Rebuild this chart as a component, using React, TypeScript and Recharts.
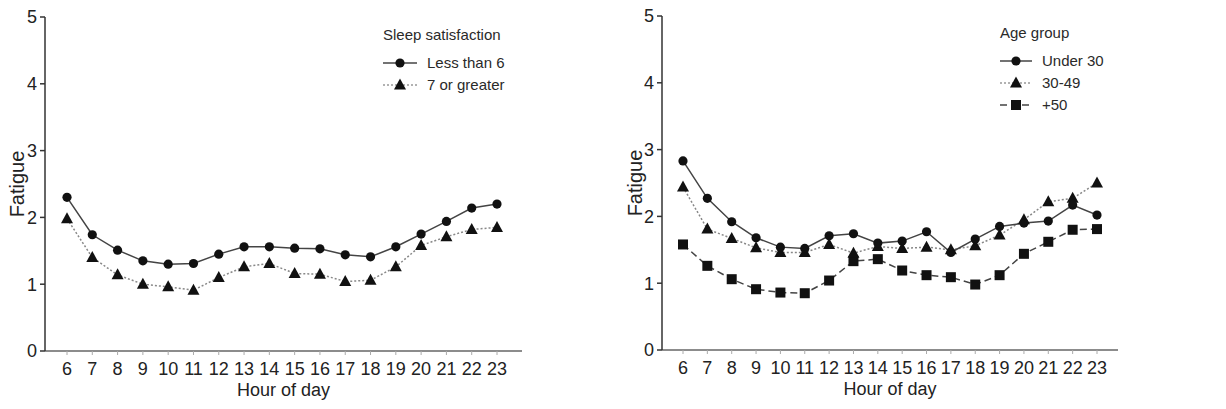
import React from "react";
import { LineChart, Line, XAxis, YAxis, Legend } from "recharts";

const hours = [6, 7, 8, 9, 10, 11, 12, 13, 14, 15, 16, 17, 18, 19, 20, 21, 22, 23];
const fatigueTicks = [0, 1, 2, 3, 4, 5];

// sleep satisfaction panel
const lessThan6 = [2.3, 1.74, 1.51, 1.35, 1.3, 1.31, 1.45, 1.56, 1.56, 1.54, 1.53, 1.44, 1.41, 1.56, 1.75, 1.94, 2.14, 2.2];
const sevenOrGreater = [1.98, 1.4, 1.14, 1.0, 0.96, 0.91, 1.1, 1.26, 1.31, 1.16, 1.15, 1.04, 1.06, 1.26, 1.58, 1.71, 1.82, 1.85];

// age group panel
const under30 = [2.83, 2.27, 1.92, 1.68, 1.54, 1.52, 1.71, 1.74, 1.6, 1.63, 1.77, 1.46, 1.66, 1.85, 1.9, 1.93, 2.17, 2.02];
const age30to49 = [2.44, 1.81, 1.67, 1.53, 1.46, 1.46, 1.58, 1.45, 1.55, 1.52, 1.54, 1.5, 1.56, 1.72, 1.95, 2.22, 2.27, 2.5];
const over50 = [1.58, 1.26, 1.06, 0.91, 0.86, 0.85, 1.04, 1.33, 1.36, 1.19, 1.12, 1.09, 0.98, 1.12, 1.44, 1.62, 1.8, 1.81];

const sleepData = hours.map((h, i) => ({ hour: h, less6: lessThan6[i], seven: sevenOrGreater[i] }));
const ageData = hours.map((h, i) => ({ hour: h, u30: under30[i], a3049: age30to49[i], o50: over50[i] }));

const FONT = '"Liberation Sans", Arial, sans-serif';
const INK = "#222";
const AXIS = "#333";

type Shape = "circle" | "triangle" | "square";

function Marker({ cx, cy, shape }: { cx: number; cy: number; shape: Shape }) {
  if (shape === "circle") return <circle cx={cx} cy={cy} r={4.6} fill="#111" />;
  if (shape === "triangle")
    return <polygon points={`${cx},${cy - 6.5} ${cx - 6},${cy + 4.5} ${cx + 6},${cy + 4.5}`} fill="#111" />;
  return <rect x={cx - 5} y={cy - 5} width={10} height={10} fill="#111" />;
}

const dotFor = (shape: Shape) => (p: any) =>
  <Marker key={`${shape}-${p.index}`} cx={p.cx} cy={p.cy} shape={shape} />;

interface LegendItem {
  name: string;
  shape: Shape;
  stroke: string;
  dash?: string;
}

const sleepLegend: LegendItem[] = [
  { name: "Less than 6", shape: "circle", stroke: "#444" },
  { name: "7 or greater", shape: "triangle", stroke: "#999", dash: "2 2" },
];
const ageLegend: LegendItem[] = [
  { name: "Under 30", shape: "circle", stroke: "#444" },
  { name: "30-49", shape: "triangle", stroke: "#999", dash: "2 2" },
  { name: "+50", shape: "square", stroke: "#444", dash: "7 4" },
];

function LegendBox({ title, items, sample }: { title: string; items: LegendItem[]; sample: number }) {
  return (
    <div style={{ fontFamily: FONT, fontSize: 15, color: "#2a2a2a", lineHeight: "22px", textAlign: "left" }}>
      <div style={{ marginBottom: 6 }}>{title}</div>
      {items.map((it) => (
        <div key={it.name} style={{ display: "flex", alignItems: "center", height: 22 }}>
          <svg width={sample} height={16} style={{ display: "block" }}>
            <line x1={0} y1={8} x2={sample} y2={8} stroke={it.stroke} strokeWidth={1.5} strokeDasharray={it.dash} />
            <Marker cx={sample / 2} cy={8} shape={it.shape} />
          </svg>
          <span style={{ marginLeft: 10 }}>{it.name}</span>
        </div>
      ))}
    </div>
  );
}

const yTitle = (offset: number) => (props: any) => {
  const vb = props.viewBox;
  const cx = vb.x + offset;
  const cy = vb.y + vb.height / 2;
  return (
    <text x={cx} y={cy} transform={`rotate(-90, ${cx}, ${cy})`} textAnchor="middle" dominantBaseline="central"
      fontFamily={FONT} fontSize={20} fill={INK}>
      Fatigue
    </text>
  );
};

const xTitle = (props: any) => {
  const vb = props.viewBox;
  return (
    <text x={vb.x + vb.width / 2} y={vb.y + 45} textAnchor="middle" fontFamily={FONT} fontSize={18} fill={INK}>
      Hour of day
    </text>
  );
};

const tickStyle = { fontFamily: FONT, fontSize: 18, fill: INK };
const xTickLine = { stroke: "#aaa", strokeWidth: 1 };

export default function App() {
  return (
    <div style={{ position: "absolute", left: 0, top: 0, width: 1226, height: 409, background: "#fff" }}>
      <div style={{ position: "absolute", left: 0, top: 0 }}>
        <LineChart width={600} height={409} data={sleepData} margin={{ top: 17, right: 78, bottom: 0, left: 0 }}>
          <XAxis dataKey="hour" height={58} padding={{ left: 22, right: 25 }} tickLine={xTickLine} tickSize={4}
            tickMargin={7} tick={tickStyle} stroke="#666" strokeWidth={1.5} interval={0}
            label={{ content: xTitle }} />
          <YAxis width={45} domain={[0, 5]} ticks={fatigueTicks} tickSize={5} tickMargin={3} tick={tickStyle}
            stroke={AXIS} strokeWidth={1.5} label={{ content: yTitle(17) }} />
          <Legend layout="vertical" align="center" verticalAlign="middle"
            wrapperStyle={{ top: 24, left: 383, width: "auto", height: "auto" }}
            content={() => <LegendBox title="Sleep satisfaction" items={sleepLegend} sample={34} />} />
          <Line dataKey="seven" stroke="#888" strokeWidth={1.5} strokeDasharray="2 2" dot={dotFor("triangle")}
            isAnimationActive={false} />
          <Line dataKey="less6" stroke="#444" strokeWidth={1.5} dot={dotFor("circle")} isAnimationActive={false} />
        </LineChart>
      </div>
      <div style={{ position: "absolute", left: 600, top: 0 }}>
        <LineChart width={626} height={409} data={ageData} margin={{ top: 16, right: 108, bottom: 0, left: 0 }}>
          <XAxis dataKey="hour" height={59} padding={{ left: 21, right: 21 }} tickLine={xTickLine} tickSize={4}
            tickMargin={7} tick={tickStyle} stroke="#666" strokeWidth={1.5} interval={0}
            label={{ content: xTitle }} />
          <YAxis width={62} domain={[0, 5]} ticks={fatigueTicks} tickSize={5} tickMargin={3} tick={tickStyle}
            stroke={AXIS} strokeWidth={1.5} label={{ content: yTitle(35) }} />
          <Legend layout="vertical" align="center" verticalAlign="middle"
            wrapperStyle={{ top: 22, left: 400, width: "auto", height: "auto" }}
            content={() => <LegendBox title="Age group" items={ageLegend} sample={32} />} />
          <Line dataKey="o50" stroke="#444" strokeWidth={1.5} strokeDasharray="7 4" dot={dotFor("square")}
            isAnimationActive={false} />
          <Line dataKey="a3049" stroke="#888" strokeWidth={1.5} strokeDasharray="2 2" dot={dotFor("triangle")}
            isAnimationActive={false} />
          <Line dataKey="u30" stroke="#444" strokeWidth={1.5} dot={dotFor("circle")} isAnimationActive={false} />
        </LineChart>
      </div>
    </div>
  );
}
